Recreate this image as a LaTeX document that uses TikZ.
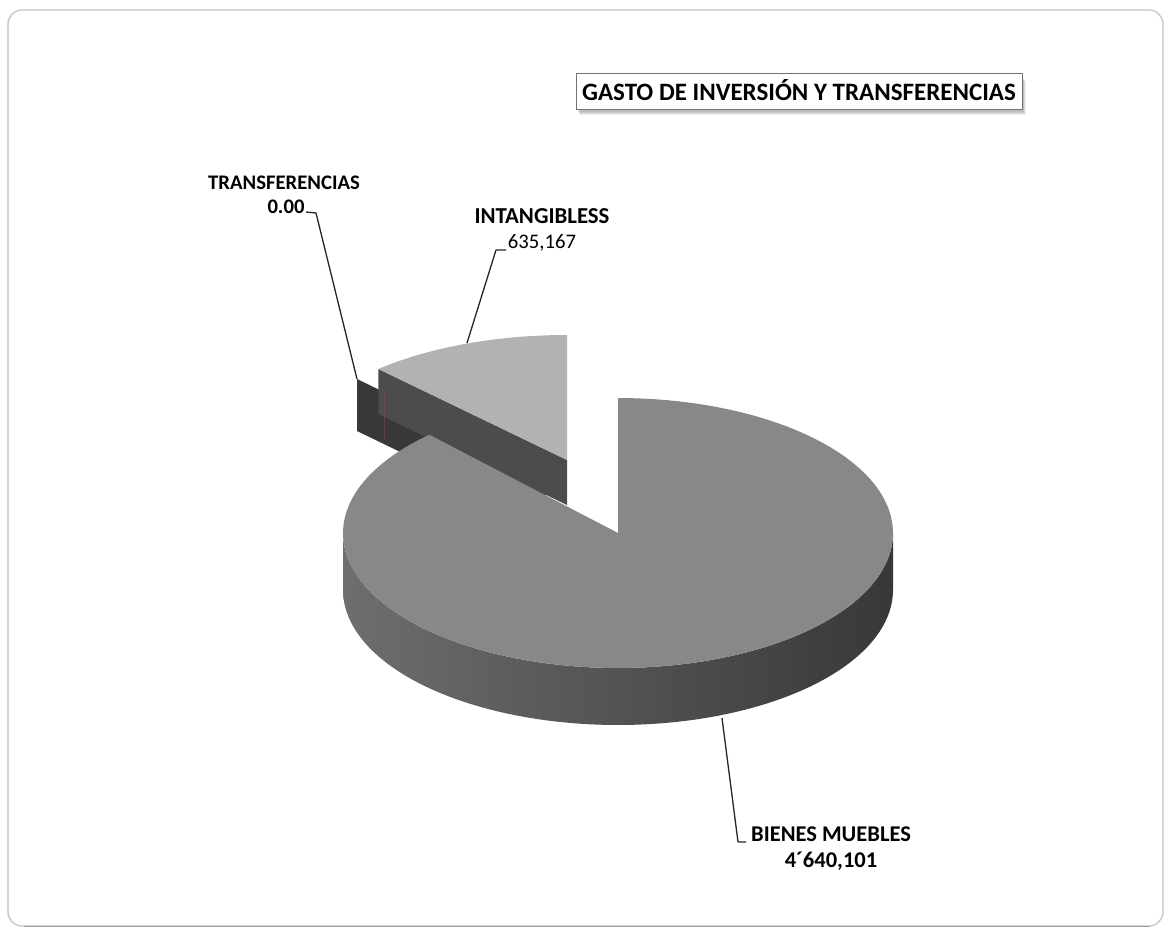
\documentclass[tikz,border=0pt]{standalone}
\usepackage{fontspec}
\setmainfont{Carlito}
\usetikzlibrary{calc}
\definecolor{bienesTop}{HTML}{888888}
\definecolor{bienesSideL}{HTML}{6E6E6E}
\definecolor{bienesSideR}{HTML}{383838}
\definecolor{intTop}{HTML}{B2B2B2}
\definecolor{intCut}{HTML}{4C4C4C}
\definecolor{trfCut}{HTML}{383838}
\definecolor{frameGray}{HTML}{C4C4C4}
\def\pBx{618}\def\pBy{533}\def\pBrx{275}\def\pBry{135}\def\pBd{57}
\def\pIx{567}\def\pIy{460}\def\pIrx{275}\def\pIry{125}\def\pId{45}
\begin{document}
\begin{tikzpicture}[x=1pt,y=-1pt,
  lbl/.style={font=\bfseries, inner sep=0pt, anchor=base},
  num/.style={inner sep=0pt, anchor=base},
  conn/.style={draw=black!85, line width=1.3pt, line join=round}]
\useasboundingbox (0,0) rectangle (1167,936);
\fill[white] (0,0) rectangle (1167,936);
% outer frame
\draw[frameGray, line width=1.3pt, rounded corners=14pt] (8,10) rectangle (1163,926);
\draw[gray!75, line width=1.6pt] (24,926.5) -- (1150,926.5);
% title
\foreach \s in {1,...,5}{\fill[black,opacity=0.07] (577+0.5*\s,76+\s) rectangle (1022+0.8*\s,109+1.3*\s);}
\node (titlebox) [draw=black!55, line width=0.6pt, fill=white, minimum width=446pt, minimum height=36pt, inner sep=0pt] at (799,91) {};
\node (title) [lbl, font=\bfseries\fontsize{25}{29}\selectfont] at (799,100.5) {GASTO DE INVERSIÓN Y TRANSFERENCIAS};
% transferencias (zero slice)
\coordinate (T) at (357,379);
\fill[trfCut] (T) -- ++(188.6,91.4) -- ++(0,52) -- ++(-188.6,-91.4) -- cycle;
% intangibles
\coordinate (I) at (\pIx,\pIy);
\coordinate (P) at ({\pIx+\pIrx*cos(133.3)},{\pIy-\pIry*sin(133.3)});
\fill[intCut] (P) -- (I) -- ++(0,\pId) -- ($(P)+(0,\pId)$) -- cycle;
\draw[red!40!gray, opacity=0.35, line width=0.8pt] (384,392) -- (384,440);
\fill[intTop] (I) -- plot[domain=90:133.3, samples=40] ({\pIx+\pIrx*cos(\x)},{\pIy-\pIry*sin(\x)}) -- cycle;
% bienes muebles
\coordinate (B) at (\pBx,\pBy);
\shade[left color=bienesSideL, right color=bienesSideR]
  plot[domain=-180:0, samples=80] ({\pBx+\pBrx*cos(\x)},{\pBy-\pBry*sin(\x)})
  -- plot[domain=-180:0, samples=80] ({\pBx+\pBrx*cos(-180-\x)},{\pBy+\pBd-\pBry*sin(-180-\x)}) -- cycle;
\fill[bienesTop] (B) -- plot[domain=-226.7:90, samples=120] ({\pBx+\pBrx*cos(\x)},{\pBy-\pBry*sin(\x)}) -- cycle;
% labels
\node (trfName) [lbl, font=\bfseries\fontsize{20.7}{24}\selectfont] at (284,190) {TRANSFERENCIAS};
\node (trfVal) [lbl, font=\bfseries\fontsize{20.7}{24}\selectfont] at (286,214) {0.00};
\node (intName) [lbl, font=\bfseries\fontsize{22.8}{26}\selectfont] at (542,223) {INTANGIBLESS};
\node (intVal) [num, font=\fontsize{20.7}{24}\selectfont] at (542,248) {635,167};
\node (bieName) [lbl, font=\bfseries\fontsize{22.5}{26}\selectfont] at (831,841) {BIENES MUEBLES};
\node (bieVal) [lbl, font=\bfseries\fontsize{22.5}{26}\selectfont] at (831,867) {4´640,101};
% connectors
\coordinate (t1) at (316,213);
\coordinate (t0) at (306,212);
\draw[conn] (T) -- (t1) -- (t0);
\coordinate (iR) at (467,343);
\coordinate (i1) at (496,250);
\coordinate (i0) at (506,250);
\draw[conn] (iR) -- (i1) -- (i0);
\coordinate (bR) at (722,718);
\coordinate (b1) at (738,842);
\coordinate (b0) at (746,842);
\draw[conn] (bR) -- (b1) -- (b0);
\end{tikzpicture}
\end{document}
